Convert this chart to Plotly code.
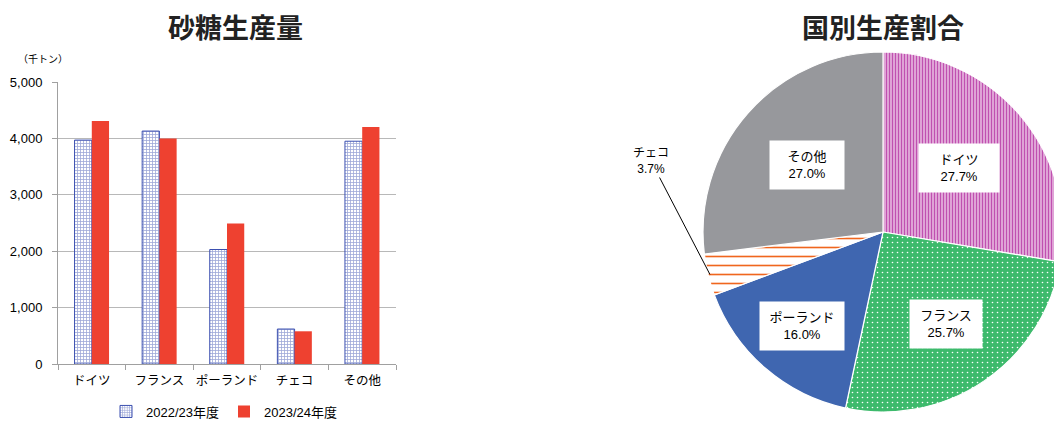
import math
import plotly.graph_objects as go

# ---------------- data ----------------
categories = ["ドイツ", "フランス", "ポーランド", "チェコ", "その他"]
values_2022_23 = [3970, 4130, 2030, 620, 3950]
values_2023_24 = [4310, 4000, 2490, 580, 4200]
series_names = ["2022/23年度", "2023/24年度"]
y_tick_values = [0, 1000, 2000, 3000, 4000, 5000]
unit_label = "（千トン）"
bar_title = "砂糖生産量"
pie_title = "国別生産割合"

# ---------------- layout helpers ----------------
# the figure is a little wider than the window: the pie runs off the right edge
W, H = 1080, 421
JP = "Arial, 'Liberation Sans', 'Noto Sans CJK JP', sans-serif"


def px(x):
    return x / W


def py(y):
    return 1 - y / H


# pie geometry (pixels)
pie_cx, pie_cy, pie_r = 883, 232, 180

fig = go.Figure()

fig.add_trace(go.Bar(
    x=categories, y=values_2022_23, name=series_names[0],
    marker=dict(color="white",
                line=dict(color="#3b4fb0", width=1),
                pattern=dict(shape="+", fgcolor="#3b4fb0", bgcolor="white",
                             size=3, solidity=0.45)),
    xaxis="x", yaxis="y",
))
fig.add_trace(go.Bar(
    x=categories, y=values_2023_24, name=series_names[1],
    marker=dict(color="#ee4130", line=dict(width=0)),
    xaxis="x", yaxis="y",
))

pie_fg = ["#c050b0", "#ffffff", "#3f66b0", "#f0661e", "#97989c"]
pie_bg = ["#e6b4de", "#3dba6c", "#3f66b0", "#ffffff", "#97989c"]
pie_shape = ["|", ".", "", "-", ""]
pie_size = [3, 5, 8, 9, 8]
pie_solid = [0.45, 0.08, 0.3, 0.18, 0.3]

fig.add_trace(go.Pie(
    labels=categories, values=values_2023_24,
    sort=False, direction="clockwise", rotation=0,
    textinfo="none", hoverinfo="label+percent",
    showlegend=False, automargin=False,
    marker=dict(colors=pie_bg, line=dict(color="white", width=1.2),
                pattern=dict(shape=pie_shape, fgcolor=pie_fg, bgcolor=pie_bg,
                             size=pie_size, solidity=pie_solid, fillmode="replace")),
    domain=dict(x=[px(pie_cx - pie_r), px(pie_cx + pie_r)],
                y=[py(pie_cy + pie_r), py(pie_cy - pie_r)]),
))

# ---------------- pie labels ----------------
total = sum(values_2023_24)
label_r = [0.55, 0.62, 0.69, 1.0, 0.56]
label_w = [70, 62, 74, 40, 64]
annotations = []
cum = 0
for i, (name, v) in enumerate(zip(categories, values_2023_24)):
    mid = (cum + v / 2) / total * 2 * math.pi
    cum += v
    pct = v / total * 100
    text = f"{name}<br>{pct:.1f}%"
    if name == "チェコ":
        ex = pie_cx + math.sin(mid) * pie_r * 0.99
        ey = pie_cy - math.cos(mid) * pie_r * 0.99
        annotations.append(dict(
            x=px(ex), y=py(ey), xref="paper", yref="paper",
            xanchor="center", yanchor="middle",
            text=text, showarrow=True, arrowhead=0, arrowwidth=1,
            arrowcolor="black", ax=651 - ex, ay=161 - ey,
            font=dict(family=JP, size=12, color="black"),
        ))
    else:
        lx = pie_cx + math.sin(mid) * pie_r * label_r[i]
        ly = pie_cy - math.cos(mid) * pie_r * label_r[i]
        annotations.append(dict(
            x=px(lx), y=py(ly), xref="paper", yref="paper",
            xanchor="center", yanchor="middle",
            text=text, showarrow=False, bgcolor="white",
            width=label_w[i], height=38, borderpad=5,
            font=dict(family=JP, size=13, color="black"),
        ))

annotations += [
    dict(x=px(235), y=py(27), xref="paper", yref="paper", showarrow=False,
         xanchor="center", yanchor="middle",
         text=f"<b>{bar_title}</b>",
         font=dict(family="'Noto Sans CJK JP'", size=27, color="#222")),
    dict(x=px(883), y=py(27), xref="paper", yref="paper", showarrow=False,
         xanchor="center", yanchor="middle",
         text=f"<b>{pie_title}</b>",
         font=dict(family="'Noto Sans CJK JP'", size=27, color="#222")),
    dict(x=px(43), y=py(59), xref="paper", yref="paper", showarrow=False,
         xanchor="center", yanchor="middle",
         text=unit_label, font=dict(family=JP, size=10, color="black")),
]

fig.update_layout(
    width=W, height=H,
    margin=dict(l=0, r=0, t=0, b=0, pad=0, autoexpand=False),
    paper_bgcolor="white", plot_bgcolor="white",
    font=dict(family=JP, color="black"),
    barmode="group", bargap=0.49, bargroupgap=0,
    xaxis=dict(domain=[px(58), px(396)], type="category",
               showline=True, linecolor="#a0a0a0", linewidth=1,
               ticks="outside", tickson="boundaries", ticklen=5,
               tickcolor="#a0a0a0", showgrid=False, tickangle=0,
               tickfont=dict(size=12.5), ticklabelstandoff=5,
               anchor="y", fixedrange=True),
    yaxis=dict(domain=[py(364), py(82)], range=[0, 5000],
               tickvals=y_tick_values, tickformat=",",
               showline=True, linecolor="#a0a0a0", linewidth=1,
               ticks="outside", ticklen=5, tickcolor="#a0a0a0",
               gridcolor="#b8b8b8", gridwidth=1, zeroline=False,
               tickfont=dict(size=13), ticklabelstandoff=7,
               anchor="x", fixedrange=True),
    legend=dict(orientation="h", x=px(224), xanchor="center",
                y=-0.013, yanchor="bottom", font=dict(size=13),
                itemwidth=30, bgcolor="rgba(0,0,0,0)"),
    annotations=annotations,
)

fig.write_html(
    "out.html",
    post_script="document.documentElement.style.overflow='hidden';"
                "document.body.style.overflow='hidden';",
)
